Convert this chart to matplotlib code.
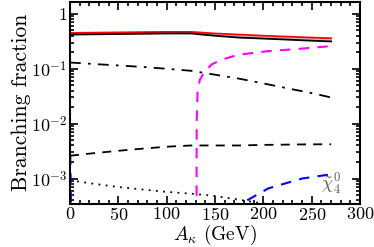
import matplotlib
matplotlib.use("Agg")
import matplotlib.pyplot as plt
import numpy as np
from matplotlib.ticker import MultipleLocator, LogLocator, NullFormatter, FuncFormatter

plt.rcParams["font.family"] = "serif"
plt.rcParams["font.serif"] = ["cmr10"]
plt.rcParams["mathtext.fontset"] = "cm"
plt.rcParams["axes.formatter.use_mathtext"] = True
plt.rcParams["font.size"] = 13

# ===== data =====
a_k = [0, 25, 50, 75, 100, 125, 150, 175, 200, 225, 250, 270]
br_red = [0.45, 0.455, 0.46, 0.465, 0.47, 0.47, 0.44, 0.42, 0.40, 0.385, 0.37, 0.36]
br_black = [0.42, 0.425, 0.43, 0.435, 0.44, 0.44, 0.40, 0.37, 0.355, 0.34, 0.325, 0.315]
br_dashdot = [0.13, 0.122, 0.115, 0.108, 0.10, 0.092, 0.078, 0.066, 0.054, 0.044, 0.036, 0.030]
br_dashed = [2.6e-3, 2.9e-3, 3.2e-3, 3.5e-3, 3.8e-3, 4.0e-3, 4.0e-3, 4.0e-3, 4.1e-3, 4.15e-3, 4.2e-3, 4.2e-3]

a_dot = [0, 25, 50, 75, 100, 125, 150, 175, 200, 225]
br_dot = [9.3e-4, 8.0e-4, 7.0e-4, 6.3e-4, 5.7e-4, 5.3e-4, 4.8e-4, 4.1e-4, 3.5e-4, 3.0e-4]

a_mag = [130.8, 131, 132, 134.5, 139.6, 146.5, 157, 174, 205, 236, 271]
br_mag = [1e-4, 0.0105, 0.042, 0.064, 0.091, 0.12, 0.147, 0.18, 0.21, 0.23, 0.26]

a_blue = [0, 1.5, 172, 176, 205, 240, 271]
br_blue = [6e-3, 1e-4, 1e-4, 3.4e-4, 6.6e-4, 1.0e-3, 1.2e-3]


def log_label(v, pos):
    e = int(round(np.log10(v)))
    if e == 0:
        return "$1$"
    return r"$10^{%d}$" % e


# ===== plot =====
fig = plt.figure(figsize=(3.74, 2.47), dpi=100)
ax = fig.add_axes([0.187, 0.176, 0.776, 0.816])

ax.fill_between(a_k, br_black, br_red, color="#c0c0c0", lw=0)
ax.plot(a_k, br_red, color="red", lw=1.3)
ax.plot(a_k, br_black, color="black", lw=1.3)
ax.plot(a_k, br_dashdot, color="black", lw=1.3, ls=(0, (6, 4, 1.5, 4)))
ax.plot(a_k, br_dashed, color="black", lw=1.3, ls=(0, (5, 4)))
ax.plot(a_dot, br_dot, color="black", lw=1.3, ls=(0, (1, 3)))
ax.plot(a_mag, br_mag, color="magenta", lw=1.5, ls=(0, (5, 4)))
ax.plot(a_blue, br_blue, color="blue", lw=1.5, ls=(0, (5, 4)))

ax.text(260, 6.3e-4, r"$\tilde{\chi}_4^0$", color="0.35", fontsize=13)

ax.set_yscale("log")
ax.set_xlim(0, 300)
ax.set_ylim(3.5e-4, 1.65)
ax.xaxis.set_major_locator(MultipleLocator(50))
ax.xaxis.set_minor_locator(MultipleLocator(10))
ax.yaxis.set_major_locator(LogLocator(base=10, numticks=10))
ax.yaxis.set_major_formatter(FuncFormatter(log_label))
ax.yaxis.set_minor_locator(LogLocator(base=10, subs=np.arange(2, 10), numticks=10))
ax.yaxis.set_minor_formatter(NullFormatter())
ax.tick_params(which="both", direction="in", top=True, right=True, width=1.2)
ax.tick_params(which="major", length=6, pad=2)
ax.tick_params(which="minor", length=3)
for s in ax.spines.values():
    s.set_linewidth(1.5)

ax.set_xlabel(r"$A_\kappa$ (GeV)", labelpad=0, fontsize=14)
ax.set_ylabel("Branching fraction", labelpad=0, fontsize=15.5)

fig.savefig("out.png", dpi=100)
